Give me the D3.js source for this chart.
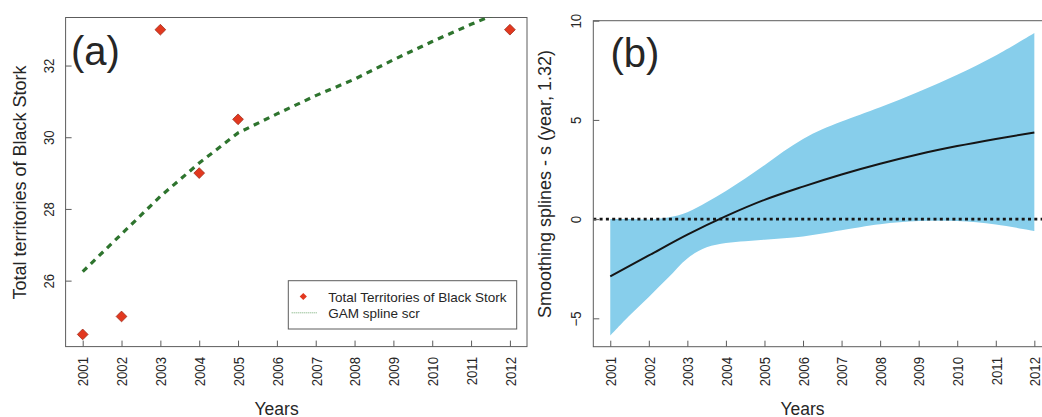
<!DOCTYPE html>
<html>
<head>
<meta charset="utf-8">
<script src="https://cdn.jsdelivr.net/npm/d3@7"></script>
<style>
  html, body { margin: 0; padding: 0; background: #ffffff; }
  svg { display: block; font-family: "Liberation Sans", Arial, sans-serif; }
</style>
</head>
<body>
<svg id="chart" width="1042" height="417"></svg>
<script>
// ---------- data ----------
const years = [2001, 2002, 2003, 2004, 2005, 2006, 2007, 2008, 2009, 2010, 2011, 2012];
const surveyYears = [2001, 2002, 2003, 2004, 2005, 2012];
const territories = [24.5, 25, 33, 29, 30.5, 33];
const gamFit = [26.25, 27.3, 28.35, 29.28, 30.12, 30.65, 31.16, 31.62, 32.16, 32.67, 33.15, 33.6];
const yTicksA = [26, 28, 30, 32];

const bandYears = [2001, 2001.5, 2002, 2002.5, 2003, 2003.5, 2004, 2004.5, 2005, 2005.5, 2006, 2006.5, 2007, 2008, 2009, 2010, 2011, 2012];
const bandUpper = [0.0, 0.0, -0.02, 0.08, 0.35, 0.85, 1.42, 2.05, 2.72, 3.42, 4.04, 4.53, 4.92, 5.64, 6.42, 7.28, 8.25, 9.38];
const bandLower = [-5.87, -4.86, -3.92, -2.96, -1.98, -1.42, -1.2, -1.11, -1.04, -0.97, -0.87, -0.72, -0.56, -0.26, -0.1, -0.1, -0.27, -0.6];
const smoothValues = [-2.89, -1.83, -0.78, 0.15, 0.97, 1.64, 2.25, 2.79, 3.27, 3.68, 4.04, 4.37];
const yTicksB = [-5, 0, 5, 10];

const legendLabels = ["Total Territories of Black Stork", "GAM spline scr"];

// ---------- setup ----------
const svg = d3.select("#chart");
const frameColor = "#5c5c5c";
const textColor = "#262626";

const xA = d3.scaleLinear().domain([2000.56, 2012.44]).range([65.6, 527]);
const yA = d3.scaleLinear().domain([24.16, 33.34]).range([346.6, 17.5]);
const xB = d3.scaleLinear().domain([2000.56, 2012.44]).range([593.3, 1051.3]);
const yB = d3.scaleLinear().domain([-6.43, 10]).range([346.7, 20.7]);

const defs = svg.append("defs");
defs.append("clipPath").attr("id", "clipA").append("rect")
  .attr("x", xA.range()[0]).attr("y", yA.range()[1])
  .attr("width", xA.range()[1] - xA.range()[0]).attr("height", yA.range()[0] - yA.range()[1]);
defs.append("clipPath").attr("id", "clipB").append("rect")
  .attr("x", xB.range()[0]).attr("y", yB.range()[1])
  .attr("width", xB.range()[1] - xB.range()[0]).attr("height", yB.range()[0] - yB.range()[1]);

function drawAxes(x, y, yTicks) {
  const bottom = y.range()[0], left = x.range()[0];
  const gx = svg.append("g").attr("transform", `translate(0,${bottom})`)
    .call(d3.axisBottom(x).tickValues(years).tickFormat(d3.format("d")).tickSizeInner(-6).tickSizeOuter(0));
  gx.select(".domain").remove();
  gx.selectAll(".tick line").attr("stroke", frameColor);
  gx.selectAll(".tick text")
    .attr("x", 0).attr("y", 0).attr("dy", null)
    .attr("text-anchor", "end")
    .attr("fill", textColor)
    .style("font-size", "15px")
    .attr("transform", `translate(5.3,${357 - bottom}) rotate(-90) scale(0.88,1)`);

  const gy = svg.append("g").attr("transform", `translate(${left},0)`)
    .call(d3.axisLeft(y).tickValues(yTicks).tickFormat(d3.format("d")).tickSizeInner(-6).tickSizeOuter(0));
  gy.select(".domain").remove();
  gy.selectAll(".tick line").attr("stroke", frameColor);
  gy.selectAll(".tick text")
    .attr("x", 0).attr("y", 0).attr("dy", null)
    .attr("text-anchor", "middle")
    .attr("fill", textColor)
    .style("font-size", "15px")
    .attr("transform", "translate(-11.9,0) rotate(-90) scale(0.88,1)");
}

// ---------- panel (a) ----------
svg.append("rect")
  .attr("x", xA.range()[0]).attr("y", yA.range()[1])
  .attr("width", xA.range()[1] - xA.range()[0]).attr("height", yA.range()[0] - yA.range()[1])
  .attr("fill", "none").attr("stroke", frameColor).attr("stroke-width", 1);
drawAxes(xA, yA, yTicksA);

svg.append("path")
  .datum(years.map((yr, i) => [yr, gamFit[i]]))
  .attr("clip-path", "url(#clipA)")
  .attr("d", d3.line().x(d => xA(d[0])).y(d => yA(d[1])))
  .attr("fill", "none").attr("stroke", "#2e742e").attr("stroke-width", 3.2)
  .attr("stroke-dasharray", "6,5.3");

const diamond = d3.symbol().type(d3.symbolSquare).size(58);
svg.append("g").selectAll("path")
  .data(surveyYears.map((yr, i) => [yr, territories[i]]))
  .join("path")
  .attr("d", diamond)
  .attr("transform", d => `translate(${xA(d[0])},${yA(d[1])}) rotate(45)`)
  .attr("fill", "#e2381f").attr("stroke", "#9a2a18").attr("stroke-width", 0.7);

svg.append("text").text("(a)")
  .attr("x", 71).attr("y", 65)
  .style("font-size", "40px").attr("fill", textColor);

// legend
const lg = svg.append("g");
lg.append("rect").attr("x", 288.3).attr("y", 280.7).attr("width", 228.4).attr("height", 48.3)
  .attr("fill", "#ffffff").attr("stroke", frameColor).attr("stroke-width", 1);
lg.append("path")
  .attr("d", d3.symbol().type(d3.symbolSquare).size(26))
  .attr("transform", "translate(303.3,296.5) rotate(45)")
  .attr("fill", "#e2381f");
lg.append("line").attr("x1", 291.7).attr("x2", 316.7).attr("y1", 312.8).attr("y2", 312.8)
  .attr("stroke", "#6fa86f").attr("stroke-width", 1).attr("stroke-dasharray", "1,1");
lg.selectAll("text").data(legendLabels).join("text")
  .attr("x", 328.3).attr("y", (d, i) => 301.8 + i * 15.7)
  .text(d => d).style("font-size", "13.5px").attr("fill", textColor);

// axis titles (a)
svg.append("text").text("Total territories of Black Stork")
  .attr("transform", "translate(25.5,182.5) rotate(-90)")
  .attr("text-anchor", "middle").style("font-size", "18px").attr("fill", textColor);
svg.append("text").text("Years")
  .attr("x", 276.6).attr("y", 414.5).attr("text-anchor", "middle")
  .style("font-size", "17.5px").attr("fill", textColor);

// ---------- panel (b) ----------
svg.append("path")
  .datum(bandYears.map((yr, i) => [yr, bandLower[i], bandUpper[i]]))
  .attr("clip-path", "url(#clipB)")
  .attr("d", d3.area().curve(d3.curveCatmullRom.alpha(0.5))
    .x(d => xB(d[0])).y0(d => yB(d[1])).y1(d => yB(d[2])))
  .attr("fill", "#87ceeb");

svg.append("line")
  .attr("x1", xB.range()[0]).attr("x2", xB.range()[1])
  .attr("y1", yB(0)).attr("y2", yB(0))
  .attr("stroke", "#151515").attr("stroke-width", 2.6).attr("stroke-dasharray", "3,3.3");

svg.append("path")
  .datum(years.map((yr, i) => [yr, smoothValues[i]]))
  .attr("d", d3.line().curve(d3.curveMonotoneX).x(d => xB(d[0])).y(d => yB(d[1])))
  .attr("fill", "none").attr("stroke", "#151515").attr("stroke-width", 2);

svg.append("rect")
  .attr("x", xB.range()[0]).attr("y", yB.range()[1])
  .attr("width", xB.range()[1] - xB.range()[0]).attr("height", yB.range()[0] - yB.range()[1])
  .attr("fill", "none").attr("stroke", frameColor).attr("stroke-width", 1);
drawAxes(xB, yB, yTicksB);

svg.append("text").text("(b)")
  .attr("x", 610.4).attr("y", 67)
  .style("font-size", "40px").attr("fill", textColor);

svg.append("text").text("Smoothing splines - s (year, 1.32)")
  .attr("transform", "translate(550.5,184) rotate(-90)")
  .attr("text-anchor", "middle").style("font-size", "18px").attr("fill", textColor);
svg.append("text").text("Years")
  .attr("x", 802.5).attr("y", 414.5).attr("text-anchor", "middle")
  .style("font-size", "17.5px").attr("fill", textColor);
</script>
</body>
</html>
